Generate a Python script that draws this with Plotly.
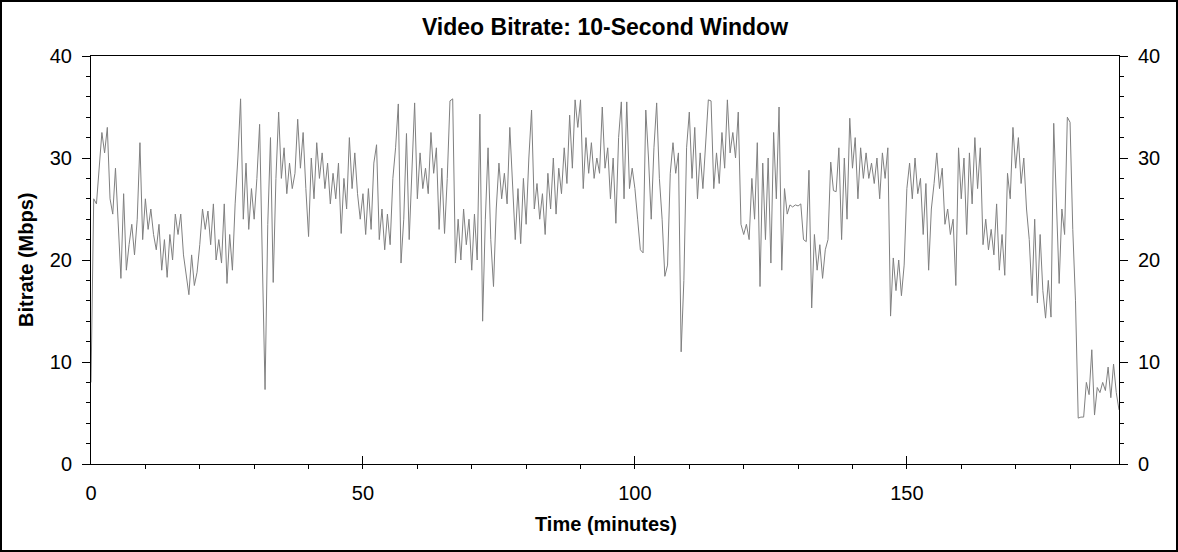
import numpy as np
import plotly.graph_objects as go

bitrate_mbps = [
    8, 26, 25.5, 29, 32.5, 30.5, 33, 26, 24.5, 29,
    24, 18.2, 26.5, 19, 21.5, 23.5, 20.5, 24, 31.5, 22,
    26, 23, 25, 22.5, 21, 23.5, 19, 22, 18.3, 22.5,
    20, 24.5, 22.5, 24.5, 20.5, 18.5, 16.6, 20.5, 17.5, 18.8,
    21.5, 25, 23, 24.8, 21.5, 25.5, 20, 22, 19.7, 25.5,
    17.7, 22.5, 19, 25.5, 30, 35.8, 24, 29.5, 23, 27,
    24, 28, 33.3, 20, 7.3, 23.5, 32, 17.8, 28, 34.5,
    28, 31, 26.5, 29.5, 27, 28.5, 33.8, 29, 32.5, 27,
    22.3, 30, 26, 31.5, 28, 30.5, 27, 29.5, 25.5, 28.5,
    26, 29.5, 22.6, 28, 25, 32, 27, 30.5, 26.5, 24,
    26.5, 22.5, 27, 23, 29.5, 31.3, 22, 25, 21, 24.5,
    21.5, 28, 31, 35.3, 19.7, 24, 32.4, 22, 28, 35.4,
    26, 30.5, 27, 29, 26.5, 32.5, 28.5, 31, 23, 29,
    22.6, 28, 35.6, 35.8, 19.7, 24, 20, 25, 21.5, 24,
    19, 24.5, 20, 34.3, 14, 24, 31, 22, 17.4, 25,
    29.5, 26, 28.5, 25.5, 33, 28, 22, 27, 21.6, 28,
    23.5, 30, 34.7, 25, 27.5, 24, 26.5, 22.5, 28.5, 25,
    30, 24.5, 29, 26.5, 31, 27.5, 34.2, 29, 35.7, 33,
    35.7, 27, 32, 28.5, 31.5, 28, 30, 28.5, 35, 29,
    31, 26, 30, 23.6, 32, 35.5, 26, 35.5, 27, 29,
    27, 24, 21, 20.7, 34.7, 30, 24, 31, 35.4, 28,
    24, 18.4, 19.5, 28.5, 31.5, 28.5, 30.5, 11, 18, 31,
    34.5, 28, 33, 26, 30.5, 27, 31, 35.7, 35.6, 27,
    30.5, 27.5, 32.5, 29, 35.7, 30.5, 32.5, 30, 34.5, 23.5,
    22.5, 23.5, 22, 28, 24, 31.5, 17.4, 29.5, 22, 30,
    19.7, 32.5, 26, 35, 19, 27, 24.5, 25.4, 25.2, 25.4,
    25.3, 25.5, 22, 21.8, 28.8, 15.3, 22.5, 19, 21.5, 18.2,
    21, 22, 29.6, 26.8, 26.7, 31, 22, 30, 24, 33.9,
    29, 32, 26, 31, 28, 30.5, 28, 29.5, 27.5, 30,
    26, 30.5, 28, 31, 14.5, 20.2, 17, 20, 16.5, 19.5,
    27, 29.5, 26, 30, 26.5, 28, 22.5, 27.5, 19, 25,
    27.5, 30.5, 27, 29, 23.5, 25, 22.5, 24, 17.5, 31,
    26, 30, 22.5, 30.5, 25.5, 32, 27, 31, 21.5, 24,
    21, 23, 20.5, 25.5, 19, 22.5, 18.5, 28.5, 26, 33,
    29, 32, 27.5, 30, 25, 22, 16.5, 24, 15.8, 22.5,
    17, 14.3, 18, 14.4, 33.4, 26, 17.7, 25, 22.5, 34,
    33.5, 23, 16, 4.5, 4.6, 4.6, 8, 6.8, 11.2, 4.8,
    7.5, 7, 8, 7.2, 9.5, 6.5, 9.8, 7, 5.3,
]
sample_step_min = 0.5
time_min = np.arange(len(bitrate_mbps)) * sample_step_min

x_ticks = [0, 50, 100, 150]
y_ticks = [0, 10, 20, 30, 40]

W, H = 1178, 552
L, R, T, B = 91, 59, 56, 88
pw, ph = W - L - R, H - T - B

FONT = "Liberation Sans, Arial, sans-serif"

fig = go.Figure()
fig.add_trace(go.Scatter(x=time_min, y=bitrate_mbps, mode="lines",
                         line=dict(color="#808080", width=1),
                         showlegend=False, hoverinfo="skip"))
fig.add_trace(go.Scatter(x=[None], y=[None], yaxis="y2", showlegend=False))

fig.update_layout(
    width=W, height=H,
    margin=dict(l=L, r=R, t=T, b=B),
    paper_bgcolor="white", plot_bgcolor="white",
    font=dict(family=FONT, size=20, color="black"),
    title=dict(text="<b>Video Bitrate: 10-Second Window</b>",
               x=0.5, xref="paper", xanchor="center",
               y=1 - 27 / H, yref="container", yanchor="middle",
               font=dict(size=23, color="black", family=FONT)),
    xaxis=dict(range=[0, 189], tickvals=x_ticks, ticks="inside", ticklen=8,
               tickcolor="black", showline=True, linecolor="black", linewidth=1,
               mirror=True, showgrid=False, zeroline=False,
               ticklabelstandoff=11,
               minor=dict(dtick=10, tick0=0, ticks="outside", ticklen=4,
                          tickcolor="black", showgrid=False),
               tickfont=dict(size=20, color="black")),
    yaxis=dict(range=[0, 40], tickvals=y_ticks, ticks="outside", ticklen=8,
               tickcolor="black", showline=True, linecolor="black", linewidth=1,
               mirror=True, showgrid=False, zeroline=False,
               ticklabelstandoff=6,
               minor=dict(dtick=2, tick0=0, ticks="outside", ticklen=4,
                          tickcolor="black", showgrid=False),
               tickfont=dict(size=20, color="black")),
    yaxis2=dict(range=[0, 40], tickvals=y_ticks, ticks="outside", ticklen=8,
                tickcolor="black", overlaying="y", side="right",
                showline=True, linecolor="black", showgrid=False, zeroline=False,
                ticklabelstandoff=6,
                minor=dict(dtick=2, tick0=0, ticks="outside", ticklen=4,
                           tickcolor="black", showgrid=False),
                tickfont=dict(size=20, color="black")),
)

# axis titles
fig.add_annotation(text="<b>Time (minutes)</b>", xref="paper", yref="paper",
                   x=(606 - L) / pw, y=(H - B - 524) / ph,
                   xanchor="center", yanchor="middle", showarrow=False,
                   font=dict(size=20, color="black", family=FONT))
fig.add_annotation(text="<b>Bitrate (Mbps)</b>", xref="paper", yref="paper",
                   x=(26 - L) / pw, y=0.5, textangle=-90,
                   xanchor="center", yanchor="middle", showarrow=False,
                   font=dict(size=20, color="black", family=FONT))

# outer frame
fig.add_shape(type="rect", xref="paper", yref="paper",
              x0=(1 - L) / pw, x1=(W - 1 - L) / pw,
              y0=(H - B - (H - 1)) / ph, y1=(H - B - 1) / ph,
              line=dict(color="black", width=2), fillcolor="rgba(0,0,0,0)")

fig.write_html("out.html",
               config={"displayModeBar": False},
               post_script="document.body.style.margin='0';document.body.style.overflow='hidden';")
